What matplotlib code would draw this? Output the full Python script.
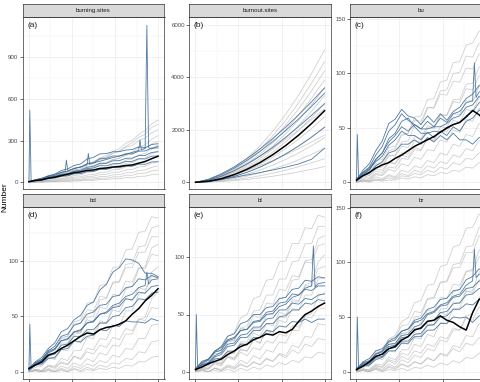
import matplotlib
matplotlib.use("Agg")
import matplotlib.pyplot as plt
from matplotlib.ticker import MultipleLocator

plt.rcParams["font.family"] = ["Liberation Sans", "DejaVu Sans"]

# time steps
steps = list(range(0, 301, 15))
steps_b = list(range(0, 301, 30))
steps_spike = [0, 2, 5, 15, 30, 45, 60, 75, 90, 105, 120, 135, 150, 165, 180,
               195, 210, 225, 240, 255, 270, 274, 278, 285, 300]
steps_spike_a = [0, 2, 5, 15, 30, 45, 60, 75, 84, 87, 90, 105, 120, 135, 138, 141,
                 150, 165, 180, 195, 210, 225, 240, 255, 258, 261, 270, 274, 278, 285, 300]

# (a) burning.sites
a_gray = [
    [3, 12, 19, 34, 43, 62, 76, 98, 110, 133, 148, 175, 192, 222, 243, 280, 302, 345, 372, 420, 448],
    [2, 9, 17, 27, 38, 55, 64, 88, 97, 124, 135, 163, 176, 210, 226, 260, 285, 325, 346, 395, 418],
    [4, 13, 21, 37, 46, 67, 78, 99, 110, 136, 146, 172, 183, 209, 221, 252, 266, 300, 318, 356, 378],
    [2, 7, 11, 22, 27, 40, 48, 65, 73, 95, 105, 128, 139, 164, 176, 205, 218, 252, 270, 310, 336],
    [5, 15, 24, 40, 48, 65, 72, 89, 95, 114, 119, 138, 143, 164, 171, 195, 202, 229, 240, 276, 296],
    [1, 5, 7, 16, 19, 30, 34, 49, 53, 71, 77, 97, 105, 126, 134, 160, 168, 197, 208, 246, 268],
    [3, 10, 15, 26, 30, 43, 46, 59, 61, 76, 78, 94, 97, 114, 117, 137, 142, 165, 174, 206, 226],
    [2, 6, 8, 15, 17, 25, 27, 38, 40, 53, 56, 70, 74, 90, 93, 112, 117, 139, 146, 173, 187],
    [1, 4, 5, 11, 12, 19, 21, 30, 31, 42, 44, 56, 58, 72, 74, 89, 92, 111, 115, 138, 148],
    [0, 3, 3, 8, 8, 14, 14, 22, 21, 31, 31, 41, 42, 54, 55, 68, 70, 85, 89, 108, 118],
    [0, 2, 2, 5, 5, 10, 9, 15, 15, 22, 22, 30, 30, 40, 39, 51, 51, 64, 66, 82, 88],
    [0, 1, 1, 4, 4, 6, 6, 10, 10, 15, 14, 20, 20, 26, 26, 34, 33, 43, 44, 55, 58],
]
a_blue = [
    [5, 20, 28, 48, 58, 85, 96, 122, 132, 168, 180, 205, 207, 220, 221, 232, 236, 255, 250, 272, 278],
    [4, 16, 25, 43, 50, 72, 79, 102, 108, 134, 140, 170, 172, 190, 188, 206, 205, 224, 226, 246, 248],
    [3, 14, 21, 37, 43, 59, 63, 82, 87, 108, 115, 137, 136, 155, 156, 173, 174, 193, 194, 215, 220],
    [5, 16, 20, 35, 38, 54, 59, 78, 82, 100, 103, 120, 119, 134, 135, 150, 151, 170, 168, 188, 190],
    [3, 12, 16, 29, 32, 45, 47, 62, 63, 78, 79, 94, 93, 106, 105, 118, 116, 131, 130, 147, 148],
]
a_spike = [5, 520, 8, 18, 30, 44, 58, 72, 80, 160, 84, 98, 112, 126, 208, 130,
           140, 152, 165, 178, 190, 200, 215, 230, 305, 235, 245, 1130, 250, 240, 260]
a_mean = [5, 13, 18, 30, 37, 48, 58, 69, 75, 86, 89, 100, 103, 110, 114, 121, 125, 138, 150, 170, 188]

# (b) burnout.sites
b_gray = [
    [0, 70, 253, 538, 919, 1391, 1953, 2601, 3333, 4151, 5050],
    [0, 64, 231, 490, 837, 1268, 1779, 2370, 3037, 3782, 4600],
    [0, 59, 213, 453, 773, 1171, 1644, 2189, 2806, 3494, 4250],
    [0, 54, 196, 416, 710, 1074, 1508, 2009, 2574, 3206, 3900],
    [0, 50, 181, 384, 656, 992, 1392, 1854, 2376, 2959, 3600],
    [0, 46, 165, 352, 601, 909, 1276, 1700, 2178, 2713, 3300],
    [0, 41, 150, 320, 546, 827, 1160, 1545, 1980, 2466, 3000],
    [0, 89, 250, 460, 708, 990, 1301, 1641, 2004, 2391, 2800],
    [0, 35, 125, 267, 455, 689, 967, 1288, 1650, 2055, 2500],
    [0, 29, 105, 224, 382, 579, 812, 1082, 1386, 1726, 2100],
    [0, 57, 161, 295, 455, 637, 837, 1055, 1289, 1537, 1800],
    [0, 23, 85, 181, 309, 468, 657, 876, 1122, 1397, 1700],
    [0, 18, 65, 139, 237, 358, 503, 670, 858, 1069, 1300],
    [0, 12, 45, 96, 164, 248, 348, 464, 594, 740, 900],
    [0, 8, 30, 64, 109, 165, 232, 309, 396, 493, 600],
]
b_blue = [
    [0, 114, 322, 590, 911, 1274, 1674, 2110, 2578, 3074, 3600],
    [0, 100, 290, 540, 840, 1180, 1560, 1980, 2420, 2900, 3400],
    [0, 80, 230, 440, 700, 1000, 1340, 1720, 2130, 2560, 3000],
    [0, 29, 105, 224, 382, 579, 812, 1082, 1386, 1726, 2100],
    [0, 40, 110, 190, 280, 370, 470, 580, 700, 880, 1300],
]
b_mean = [0, 38, 137, 291, 497, 752, 1056, 1406, 1802, 2244, 2730]

# (c) bu
c_gray = [
    [2, 6, 8, 16, 18, 29, 31, 43, 45, 60, 61, 76, 77, 92, 94, 110, 111, 126, 128, 139, 137],
    [1, 5, 6, 13, 14, 24, 25, 37, 38, 52, 53, 68, 69, 84, 85, 100, 101, 116, 115, 128, 127],
    [3, 9, 11, 20, 21, 32, 33, 44, 45, 57, 56, 69, 68, 81, 80, 93, 92, 105, 104, 118, 117],
    [1, 4, 4, 10, 9, 18, 17, 27, 26, 38, 37, 50, 49, 62, 62, 76, 76, 90, 91, 106, 107],
    [2, 8, 9, 17, 16, 25, 24, 33, 32, 42, 40, 52, 50, 62, 61, 74, 73, 86, 85, 98, 97],
    [0, 3, 3, 8, 7, 14, 13, 22, 21, 30, 29, 41, 39, 51, 50, 63, 62, 75, 74, 88, 87],
    [1, 6, 6, 12, 11, 19, 17, 25, 23, 32, 30, 40, 38, 48, 46, 57, 55, 67, 65, 78, 77],
    [0, 2, 2, 7, 6, 12, 10, 17, 15, 23, 21, 30, 29, 39, 37, 48, 46, 58, 56, 68, 67],
    [0, 2, 1, 5, 3, 7, 5, 11, 9, 15, 13, 20, 18, 27, 25, 35, 33, 44, 42, 54, 52],
    [0, 2, 1, 3, 2, 6, 4, 8, 6, 11, 9, 15, 13, 19, 17, 25, 23, 31, 29, 38, 37],
    [0, 1, 1, 2, 2, 4, 3, 6, 5, 8, 7, 11, 9, 14, 12, 18, 16, 22, 21, 27, 26],
    [0, 1, 0, 2, 1, 2, 2, 4, 3, 5, 4, 7, 6, 9, 8, 11, 10, 14, 13, 18, 17],
]
c_blue = [
    [2, 11, 17, 29, 38, 54, 58, 67, 61, 59, 53, 61, 55, 63, 57, 65, 69, 77, 81, 89, 90],
    [3, 9, 14, 25, 33, 47, 53, 63, 57, 53, 49, 49, 51, 51, 54, 59, 61, 69, 71, 79, 80],
    [1, 7, 11, 21, 27, 40, 45, 56, 59, 51, 45, 45, 47, 46, 49, 53, 55, 61, 65, 73, 75],
    [2, 8, 12, 19, 24, 34, 39, 47, 43, 43, 39, 46, 41, 47, 43, 51, 47, 56, 59, 66, 70],
    [1, 6, 8, 15, 19, 27, 29, 35, 35, 39, 35, 41, 37, 43, 39, 45, 39, 39, 35, 41, 42],
]
c_spike = [2, 44, 4, 9, 13, 21, 27, 37, 43, 51, 47, 53, 49, 56, 51, 59, 55, 63, 65, 73, 75, 110, 78, 83, 85]
c_mean = [2, 6, 9, 13, 16, 18, 22, 25, 29, 33, 36, 39, 42, 46, 50, 53, 55, 60, 66, 62, 56]

# (d) bd
d_gray = [
    [2, 7, 9, 18, 19, 30, 32, 45, 47, 62, 63, 78, 79, 94, 95, 110, 111, 126, 127, 140, 139],
    [1, 4, 5, 12, 12, 22, 23, 34, 35, 49, 50, 65, 66, 81, 82, 97, 98, 113, 114, 130, 132],
    [3, 9, 11, 20, 20, 31, 32, 43, 44, 56, 55, 68, 67, 80, 81, 94, 94, 108, 108, 122, 122],
    [0, 2, 1, 6, 5, 12, 10, 19, 19, 31, 30, 44, 44, 59, 60, 75, 77, 93, 95, 112, 115],
    [2, 8, 9, 17, 16, 26, 26, 36, 35, 47, 45, 58, 57, 70, 69, 82, 81, 94, 93, 106, 105],
    [0, 2, 1, 5, 3, 8, 6, 14, 12, 21, 20, 30, 29, 42, 41, 55, 55, 70, 71, 90, 95],
    [1, 6, 6, 13, 11, 20, 19, 28, 26, 37, 34, 46, 44, 56, 54, 66, 64, 76, 74, 86, 85],
    [0, 1, 0, 3, 1, 5, 3, 8, 5, 12, 9, 17, 15, 24, 23, 34, 34, 47, 49, 66, 72],
    [0, 2, 1, 5, 4, 9, 7, 14, 11, 18, 16, 24, 22, 31, 29, 39, 37, 48, 46, 58, 57],
    [0, 1, 0, 2, 0, 3, 1, 5, 3, 7, 5, 10, 8, 15, 13, 21, 20, 30, 30, 42, 43],
    [0, 1, 0, 1, 0, 2, 0, 3, 1, 4, 2, 6, 4, 8, 7, 12, 11, 18, 17, 27, 28],
    [0, 1, 0, 1, 0, 1, 0, 2, 0, 2, 1, 3, 2, 4, 3, 6, 5, 9, 9, 13, 14],
]
d_blue = [
    [3, 9, 13, 21, 26, 36, 39, 47, 51, 60, 63, 74, 79, 90, 94, 102, 101, 98, 89, 89, 86],
    [2, 8, 11, 19, 23, 32, 34, 42, 44, 52, 54, 60, 61, 68, 69, 76, 77, 84, 83, 87, 85],
    [3, 7, 10, 17, 20, 28, 29, 36, 37, 44, 45, 52, 53, 58, 59, 66, 65, 72, 71, 77, 78],
    [1, 6, 8, 14, 16, 24, 25, 32, 32, 38, 38, 44, 44, 50, 51, 58, 59, 66, 65, 71, 72],
    [2, 6, 7, 12, 13, 20, 21, 28, 27, 32, 33, 38, 37, 42, 41, 46, 45, 45, 44, 48, 46],
]
d_spike = [2, 43, 3, 8, 11, 18, 21, 28, 30, 36, 38, 44, 46, 52, 54, 60, 62, 68, 70, 76, 78, 90, 79, 83, 84]
d_mean = [3, 6, 9, 15, 17, 21, 24, 28, 32, 35, 34, 38, 40, 41, 43, 46, 52, 57, 64, 69, 75]

# (e) bl
e_gray = [
    [1, 6, 7, 17, 19, 31, 34, 47, 50, 64, 66, 80, 81, 96, 97, 112, 112, 126, 125, 137, 135],
    [2, 7, 8, 16, 16, 26, 27, 38, 40, 53, 54, 67, 67, 81, 81, 96, 97, 112, 112, 127, 127],
    [0, 3, 3, 9, 8, 17, 16, 26, 26, 38, 37, 50, 50, 64, 65, 80, 81, 97, 98, 116, 119],
    [3, 9, 10, 18, 18, 28, 27, 38, 37, 49, 47, 60, 59, 72, 71, 84, 83, 96, 95, 110, 112],
    [0, 2, 2, 7, 5, 13, 11, 19, 18, 28, 25, 37, 35, 48, 47, 61, 61, 76, 78, 96, 102],
    [1, 5, 5, 12, 10, 18, 16, 25, 23, 34, 31, 42, 40, 52, 50, 63, 62, 75, 75, 90, 92],
    [0, 3, 3, 8, 6, 14, 12, 20, 18, 28, 25, 36, 33, 45, 43, 55, 54, 67, 67, 81, 82],
    [0, 1, 0, 3, 2, 6, 4, 10, 7, 14, 11, 19, 17, 26, 25, 36, 36, 49, 51, 66, 69],
    [1, 4, 3, 8, 7, 13, 10, 17, 14, 21, 19, 27, 25, 33, 31, 40, 39, 48, 47, 56, 55],
    [0, 1, 0, 3, 1, 4, 2, 6, 4, 8, 6, 12, 9, 16, 14, 23, 21, 31, 30, 42, 41],
    [0, 2, 0, 3, 1, 5, 3, 7, 4, 9, 6, 11, 9, 15, 12, 19, 16, 24, 22, 29, 28],
    [0, 1, 0, 1, 0, 2, 0, 3, 1, 4, 2, 6, 4, 8, 6, 10, 8, 13, 12, 17, 16],
]
e_blue = [
    [2, 7, 10, 18, 22, 31, 33, 42, 44, 50, 50, 56, 57, 64, 65, 72, 73, 80, 79, 83, 82],
    [3, 8, 11, 17, 19, 27, 29, 36, 37, 44, 45, 52, 53, 60, 61, 68, 67, 72, 71, 75, 75],
    [1, 6, 8, 14, 17, 24, 25, 32, 33, 39, 39, 46, 47, 54, 54, 60, 59, 64, 63, 67, 68],
    [2, 6, 7, 13, 15, 22, 23, 30, 30, 36, 36, 42, 42, 48, 49, 54, 54, 60, 59, 63, 62],
    [1, 5, 6, 11, 12, 18, 18, 24, 24, 30, 30, 36, 35, 40, 39, 44, 43, 46, 43, 46, 46],
]
e_spike = [2, 50, 4, 9, 11, 18, 21, 28, 30, 36, 37, 43, 44, 50, 51, 57, 59, 65, 67, 73, 75, 110, 74, 77, 78]
e_mean = [2, 4, 7, 9, 11, 15, 18, 22, 24, 28, 30, 33, 32, 35, 34, 37, 44, 50, 53, 57, 60]

# (f) br
f_gray = [
    [2, 7, 8, 17, 19, 30, 33, 46, 49, 63, 65, 79, 80, 96, 98, 114, 116, 131, 132, 144, 142],
    [1, 4, 5, 12, 13, 23, 24, 35, 36, 50, 51, 66, 67, 82, 83, 98, 99, 114, 115, 132, 135],
    [3, 9, 10, 19, 19, 30, 31, 42, 43, 55, 54, 67, 68, 81, 82, 95, 95, 109, 109, 124, 125],
    [0, 2, 2, 7, 6, 13, 11, 20, 20, 31, 30, 43, 43, 57, 58, 73, 75, 91, 94, 111, 115],
    [2, 8, 9, 17, 16, 25, 25, 35, 34, 46, 44, 56, 55, 68, 67, 80, 79, 92, 92, 105, 105],
    [0, 2, 1, 6, 4, 11, 9, 17, 15, 25, 23, 34, 32, 45, 44, 58, 58, 73, 74, 91, 95],
    [1, 6, 6, 13, 11, 19, 18, 27, 25, 36, 33, 44, 42, 54, 52, 64, 62, 74, 72, 84, 83],
    [0, 1, 0, 4, 2, 7, 4, 11, 8, 15, 13, 21, 19, 29, 27, 38, 38, 51, 53, 68, 71],
    [0, 3, 1, 5, 4, 10, 7, 14, 11, 19, 17, 25, 23, 32, 30, 40, 38, 49, 47, 59, 57],
    [0, 1, 0, 3, 0, 4, 2, 7, 4, 9, 7, 13, 10, 17, 15, 24, 22, 33, 32, 44, 43],
    [0, 2, 0, 3, 1, 5, 3, 7, 5, 9, 7, 12, 10, 16, 14, 21, 18, 26, 24, 31, 30],
    [0, 1, 0, 2, 0, 2, 1, 3, 1, 4, 3, 6, 4, 8, 6, 10, 8, 13, 12, 17, 16],
]
f_blue = [
    [2, 7, 9, 16, 19, 27, 29, 37, 39, 47, 49, 57, 59, 66, 67, 74, 75, 84, 87, 94, 90],
    [3, 8, 10, 16, 18, 25, 26, 33, 34, 41, 43, 52, 54, 60, 61, 68, 69, 76, 77, 83, 80],
    [1, 6, 8, 14, 16, 23, 24, 31, 32, 39, 39, 46, 47, 54, 55, 62, 63, 70, 71, 76, 76],
    [2, 6, 7, 13, 14, 21, 22, 28, 28, 34, 35, 42, 43, 50, 51, 57, 57, 62, 61, 66, 66],
    [1, 5, 6, 11, 13, 19, 19, 26, 26, 32, 32, 38, 38, 44, 44, 50, 49, 50, 45, 51, 52],
]
f_spike = [2, 50, 4, 9, 12, 19, 21, 28, 31, 37, 39, 45, 47, 53, 55, 61, 63, 69, 71, 79, 83, 112, 86, 89, 90]
f_mean = [2, 5, 9, 14, 16, 21, 23, 29, 32, 38, 40, 46, 47, 51, 47, 45, 41, 38, 54, 66, 70]

panels = [
    ("burning.sites", "(a)", steps, a_gray, a_blue, (steps_spike_a, a_spike), a_mean,
     (-48, 1190), 300),
    ("burnout.sites", "(b)", steps_b, b_gray, b_blue, None, b_mean, (-256, 6306), 2000),
    ("bu", "(c)", steps, c_gray, c_blue, (steps_spike, c_spike), c_mean, (-6.2, 151.9), 50),
    ("bd", "(d)", steps, d_gray, d_blue, (steps_spike, d_spike), d_mean, (-6.6, 148.9), 50),
    ("bl", "(e)", steps, e_gray, e_blue, (steps_spike, e_spike), e_mean, (-6.4, 144.0), 50),
    ("br", "(f)", steps, f_gray, f_blue, (steps_spike, f_spike), f_mean, (-6.7, 150.5), 50),
]

W, H = 481, 382
fig = plt.figure(figsize=(W / 100, H / 100), dpi=100)

col_left = [22.5, 189, 350]
panel_w = 142
rows = [(4, 17, 189), (194, 207, 379)]  # strip top, panel top, panel bottom

gray_col = "#b8b8b8"
blue_col = "#3d6c99"
edge_col = "#333333"
grid_col = "#ebebeb"


def px_axes(left, top, w, h):
    return fig.add_axes([left / W, (H - top - h) / H, w / W, h / H])


for i, (strip, tag, xs, gray, blue, spike, mean, ylim, ystep) in enumerate(panels):
    r, c = divmod(i, 3)
    st, pt, pb = rows[r]
    ax = px_axes(col_left[c], pt, panel_w, pb - pt)
    sx = px_axes(col_left[c], st, panel_w, pt - st)

    for y in gray:
        ax.plot(xs, y, color=gray_col, lw=0.55, alpha=0.7, zorder=2)
    for y in blue:
        ax.plot(xs, y, color=blue_col, lw=0.6, alpha=0.9, zorder=3)
    if spike is not None:
        ax.plot(spike[0], spike[1], color=blue_col, lw=0.6, alpha=0.9, zorder=3)
    ax.plot(xs, mean, color="black", lw=1.1, zorder=4)

    ax.set_xlim(-15, 315)
    ax.set_ylim(*ylim)
    ax.xaxis.set_major_locator(MultipleLocator(100))
    ax.xaxis.set_minor_locator(MultipleLocator(50))
    ax.yaxis.set_major_locator(MultipleLocator(ystep))
    ax.yaxis.set_minor_locator(MultipleLocator(ystep / 2))
    ax.grid(which="major", color=grid_col, lw=0.5, zorder=0)
    ax.grid(which="minor", color=grid_col, lw=0.25, zorder=0)
    ax.set_axisbelow(True)
    for s in ax.spines.values():
        s.set_color(edge_col)
        s.set_linewidth(0.5)
    ax.tick_params(axis="y", which="major", length=2, width=0.5, color=edge_col,
                   labelsize=4.4, labelcolor="#4d4d4d", pad=1)
    ax.tick_params(which="minor", length=0)
    ax.set_xticklabels([])
    if r == 0:
        ax.tick_params(axis="x", which="major", length=0)
    else:
        ax.tick_params(axis="x", which="major", length=2.5, width=0.5, color=edge_col)
    ax.text(0.032, 0.972, tag, transform=ax.transAxes, ha="left", va="top",
            fontsize=6, color="#1a1a1a")

    sx.set_facecolor("#d9d9d9")
    sx.set_xticks([])
    sx.set_yticks([])
    for s in sx.spines.values():
        s.set_color(edge_col)
        s.set_linewidth(0.5)
    sx.text(0.5, 0.5, strip, transform=sx.transAxes, ha="center", va="center",
            fontsize=4.4, color="#1a1a1a")

fig.text(5 / W, 1 - 197 / H, "Number", rotation=90, ha="center", va="center",
         fontsize=6, color="black")

fig.savefig("out.png", dpi=100)
